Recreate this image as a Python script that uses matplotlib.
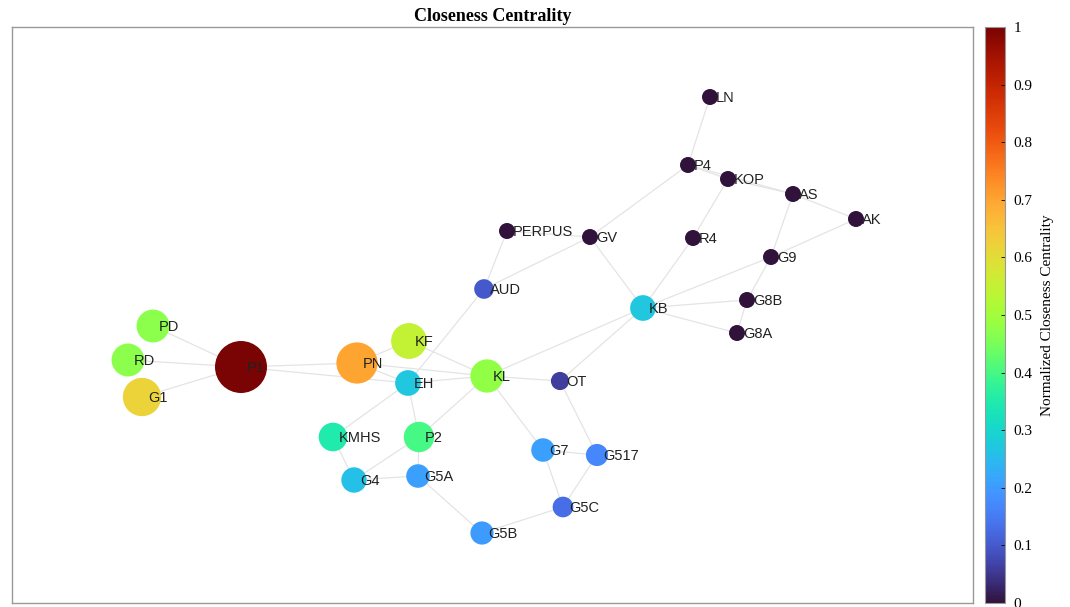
import numpy as np
import matplotlib
matplotlib.use("Agg")
import matplotlib.pyplot as plt
from matplotlib import cm, colors

# node names, layout positions (pixel-like coords) and normalized closeness
nodes = ["P1", "PD", "RD", "G1", "PN", "KF", "EH", "KL", "OT", "KMHS",
         "P2", "G4", "G5A", "G7", "G517", "G5C", "G5B", "AUD", "PERPUS", "GV",
         "KB", "LN", "P4", "KOP", "AS", "AK", "R4", "G9", "G8B", "G8A"]
pos_x = [241, 153, 128, 142, 357, 409, 408, 487, 560, 333,
         419, 354, 418, 543, 597, 563, 482, 484, 507, 590,
         643, 710, 688, 728, 793, 856, 693, 771, 747, 737]
pos_y = [367, 326, 360, 397, 363, 341, 383, 376, 381, 437,
         437, 480, 476, 450, 455, 507, 533, 289, 231, 237,
         308, 97, 165, 179, 194, 219, 238, 257, 300, 333]
closeness = [1.00, 0.47, 0.47, 0.62, 0.70, 0.55, 0.27, 0.48, 0.06, 0.35,
             0.40, 0.26, 0.21, 0.21, 0.17, 0.13, 0.20, 0.10, 0.0, 0.0,
             0.27, 0.0, 0.0, 0.0, 0.0, 0.0, 0.0, 0.0, 0.0, 0.0]

edges = [("PD", "P1"), ("RD", "P1"), ("G1", "P1"), ("P1", "PN"), ("P1", "EH"),
         ("PN", "KF"), ("PN", "KL"), ("PN", "EH"), ("KF", "KL"), ("EH", "KL"),
         ("EH", "AUD"), ("EH", "KMHS"), ("EH", "P2"), ("KL", "P2"), ("KL", "OT"),
         ("KL", "G7"), ("KL", "KB"), ("KMHS", "G4"), ("G4", "G5A"), ("G4", "P2"),
         ("P2", "G5A"), ("G5A", "G5B"), ("G5B", "G5C"), ("G5C", "G7"),
         ("G5C", "G517"), ("G7", "G517"), ("OT", "G517"), ("OT", "KB"),
         ("AUD", "PERPUS"), ("AUD", "GV"), ("PERPUS", "GV"), ("GV", "KB"),
         ("GV", "P4"), ("LN", "P4"), ("P4", "KOP"), ("P4", "AS"), ("KOP", "AS"),
         ("KOP", "R4"), ("R4", "KB"), ("AS", "AK"), ("AS", "G9"), ("AK", "G9"),
         ("G9", "KB"), ("G9", "G8B"), ("G8B", "G8A"), ("G8B", "KB"), ("G8A", "KB")]

fig = plt.figure(figsize=(10.7, 6.07), dpi=100)
ax = fig.add_axes([12 / 1070, 4 / 607, 961 / 1070, 576 / 607])
idx = {n: i for i, n in enumerate(nodes)}

for a, b in edges:
    i, j = idx[a], idx[b]
    ax.plot([pos_x[i], pos_x[j]], [pos_y[i], pos_y[j]], color="#e4e4e4",
            lw=0.9, zorder=1)

cmap = matplotlib.colormaps["turbo"]
norm = colors.Normalize(0, 1)
c = np.array(closeness)
# node radius grows with centrality
radius = 8 + 18 * c
ax.scatter(pos_x, pos_y, s=(1.44 * radius) ** 2, c=c, cmap=cmap, norm=norm,
           edgecolors="none", zorder=2)

for i, n in enumerate(nodes):
    ax.text(pos_x[i] + 6, pos_y[i] + 1, n, fontsize=10.5, family="Liberation Sans",
            color="#222222", ha="left", va="center", zorder=3)

ax.set_xlim(12, 973)
ax.set_ylim(603, 27)
ax.set_xticks([])
ax.set_yticks([])
for s in ax.spines.values():
    s.set_color("#999999")
    s.set_linewidth(1.0)
ax.set_title("Closeness Centrality", family="Liberation Serif", fontweight="bold",
             fontsize=13, pad=4)

cax = fig.add_axes([985 / 1070, 4 / 607, 20 / 1070, 576 / 607])
cb = fig.colorbar(cm.ScalarMappable(norm=norm, cmap=cmap), cax=cax)
cb.set_ticks(np.arange(0, 1.01, 0.1))
cb.set_ticklabels(["0", "0.1", "0.2", "0.3", "0.4", "0.5", "0.6", "0.7", "0.8", "0.9", "1"])
cax.tick_params(direction="in", length=3, width=0.6, labelsize=11, pad=6)
for t in cax.get_yticklabels():
    t.set_family("Liberation Serif")
cb.outline.set_edgecolor("#999999")
cb.outline.set_linewidth(0.8)
cb.set_label("Normalized Closeness Centrality", family="Liberation Serif",
             fontsize=11, labelpad=6)

fig.savefig("out.png", dpi=100)
